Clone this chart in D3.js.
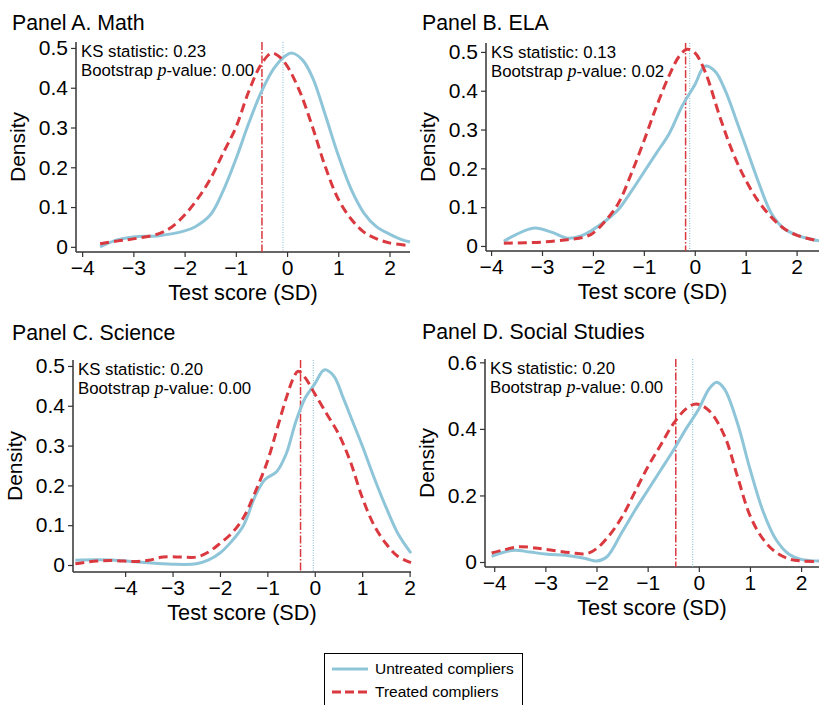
<!DOCTYPE html>
<html>
<head>
<meta charset="utf-8">
<script src="https://cdn.jsdelivr.net/npm/d3@7"></script>
<style>
  body { margin: 0; background: #fff; }
  svg { font-family: "Liberation Sans", Arial, sans-serif; }
</style>
</head>
<body>
<div id="chart"></div>
<script>
// density curves: [score, density]
const mathUntreated = [[-3.65,0.0],[-3.3,0.018],[-3,0.025],[-2.5,0.028],[-2,0.04],[-1.8,0.05],[-1.5,0.08],[-1.25,0.14],[-1,0.22],[-0.75,0.31],[-0.5,0.39],[-0.25,0.45],[0,0.483],[0.1,0.487],[0.3,0.47],[0.5,0.425],[0.75,0.33],[1,0.23],[1.25,0.145],[1.5,0.085],[1.75,0.05],[2,0.032],[2.2,0.02],[2.4,0.012]];
const mathTreated = [[-3.65,0.008],[-3.3,0.015],[-3,0.02],[-2.5,0.033],[-2.25,0.05],[-2,0.08],[-1.75,0.12],[-1.5,0.17],[-1.25,0.235],[-1,0.3],[-0.75,0.39],[-0.5,0.46],[-0.3,0.487],[-0.15,0.478],[0,0.455],[0.25,0.39],[0.5,0.3],[0.75,0.2],[1,0.12],[1.25,0.07],[1.5,0.037],[1.75,0.02],[2,0.01],[2.4,0.003]];

const elaUntreated = [[-3.75,0.012],[-3.5,0.03],[-3.15,0.046],[-2.8,0.035],[-2.5,0.02],[-2.25,0.025],[-2,0.042],[-1.75,0.065],[-1.5,0.094],[-1.25,0.14],[-1,0.19],[-0.75,0.24],[-0.5,0.29],[-0.25,0.36],[0,0.415],[0.2,0.463],[0.4,0.45],[0.6,0.4],[0.8,0.33],[1,0.257],[1.25,0.165],[1.5,0.085],[1.75,0.045],[2,0.028],[2.2,0.02],[2.45,0.013]];
const elaTreated = [[-3.75,0.007],[-3,0.01],[-2.5,0.016],[-2.2,0.022],[-2,0.033],[-1.75,0.065],[-1.5,0.11],[-1.25,0.185],[-1,0.27],[-0.75,0.36],[-0.5,0.44],[-0.3,0.49],[-0.15,0.507],[0,0.498],[0.2,0.45],[0.5,0.33],[0.75,0.24],[1,0.17],[1.25,0.115],[1.5,0.075],[1.75,0.045],[2,0.028],[2.2,0.02],[2.45,0.012]];

const sciUntreated = [[-5.05,0.012],[-4.6,0.013],[-4.2,0.012],[-3.8,0.008],[-3.3,0.004],[-3,0.002],[-2.5,0.003],[-2.25,0.012],[-2,0.03],[-1.75,0.06],[-1.5,0.1],[-1.25,0.175],[-1.05,0.215],[-0.8,0.235],[-0.6,0.28],[-0.4,0.36],[-0.2,0.42],[0,0.455],[0.2,0.49],[0.4,0.475],[0.6,0.42],[0.8,0.36],[1,0.3],[1.25,0.22],[1.5,0.146],[1.75,0.08],[2.03,0.03]];
const sciTreated = [[-5.05,0.003],[-4.6,0.01],[-4.2,0.011],[-3.8,0.009],[-3.5,0.012],[-3.2,0.02],[-2.8,0.02],[-2.5,0.02],[-2.25,0.032],[-2,0.054],[-1.75,0.08],[-1.5,0.12],[-1.25,0.185],[-1,0.26],[-0.8,0.34],[-0.6,0.42],[-0.45,0.47],[-0.35,0.487],[-0.2,0.47],[0,0.43],[0.25,0.38],[0.5,0.33],[0.75,0.26],[1,0.17],[1.25,0.1],[1.5,0.054],[1.75,0.022],[2.03,0.006]];

const socUntreated = [[-4.05,0.017],[-3.8,0.03],[-3.6,0.035],[-3.3,0.03],[-3,0.024],[-2.5,0.018],[-2.2,0.01],[-2,0.003],[-1.8,0.015],[-1.5,0.09],[-1.25,0.155],[-1,0.215],[-0.75,0.275],[-0.5,0.335],[-0.25,0.4],[0,0.46],[0.2,0.52],[0.35,0.54],[0.5,0.52],[0.75,0.42],[1,0.28],[1.25,0.155],[1.5,0.07],[1.75,0.025],[2,0.008],[2.35,0.003]];
const socTreated = [[-4.05,0.027],[-3.8,0.037],[-3.5,0.046],[-3.2,0.042],[-3,0.038],[-2.5,0.028],[-2.2,0.025],[-2,0.04],[-1.75,0.08],[-1.5,0.136],[-1.25,0.21],[-1,0.285],[-0.75,0.35],[-0.5,0.415],[-0.25,0.46],[-0.05,0.475],[0.2,0.455],[0.5,0.38],[0.75,0.26],[1,0.14],[1.25,0.07],[1.5,0.03],[1.75,0.01],[2,0.003],[2.35,0.002]];

const panelTitles = ["Panel A. Math", "Panel B. ELA", "Panel C. Science", "Panel D. Social Studies"];
const ksStats = ["0.23", "0.13", "0.20", "0.20"];
const pValues = ["0.00", "0.02", "0.00", "0.00"];
const treatedMeans = [-0.49, -0.18, -0.3, -0.45];
const untreatedMeans = [-0.08, -0.1, -0.03, -0.12];
const xTicks = [[-4,-3,-2,-1,0,1,2], [-4,-3,-2,-1,0,1,2], [-4,-3,-2,-1,0,1,2], [-4,-3,-2,-1,0,1,2]];
const yTicks = [[0,0.1,0.2,0.3,0.4,0.5], [0,0.1,0.2,0.3,0.4,0.5], [0,0.1,0.2,0.3,0.4,0.5], [0,0.2,0.4,0.6]];
const legendLabels = ["Untreated compliers", "Treated compliers"];

const untreatedCurves = [mathUntreated, elaUntreated, sciUntreated, socUntreated];
const treatedCurves = [mathTreated, elaTreated, sciTreated, socTreated];

const blue = "#8ec5d8";
const red = "#d9393f";
const axisColor = "#333";

const width = 819, height = 705;

// plot boxes and domains of each panel
const panels = [
  { x0: 76, x1: 410, y0: 42, y1: 252, xd: [-4.12, 2.4], yd: [-0.013, 0.515], tx: 12, ty: 30 },
  { x0: 486, x1: 819, y0: 43, y1: 251, xd: [-4.1, 2.44], yd: [-0.013, 0.523], tx: 422, ty: 30 },
  { x0: 73, x1: 411, y0: 360, y1: 572, xd: [-5.1, 2.03], yd: [-0.0176, 0.515], tx: 12, ty: 340 },
  { x0: 485, x1: 819, y0: 359, y1: 567, xd: [-4.18, 2.35], yd: [-0.015, 0.61], tx: 422, ty: 339 }
];

const svg = d3.select("#chart").append("svg")
  .attr("width", width)
  .attr("height", height);

const fmtMinus = d => d < 0 ? "\u2212" + Math.abs(d) : String(d);

panels.forEach((p, i) => {
  const x = d3.scaleLinear().domain(p.xd).range([p.x0, p.x1]);
  const y = d3.scaleLinear().domain(p.yd).range([p.y1, p.y0]);
  const g = svg.append("g");

  g.append("text")
    .attr("x", p.tx).attr("y", p.ty)
    .style("font-size", "21.3px")
    .text(panelTitles[i]);

  // axes
  const axX = g.append("g")
    .attr("transform", `translate(0,${p.y1})`)
    .call(d3.axisBottom(x).tickValues(xTicks[i]).tickSize(5).tickPadding(3).tickFormat(fmtMinus));
  const axY = g.append("g")
    .attr("transform", `translate(${p.x0},0)`)
    .call(d3.axisLeft(y).tickValues(yTicks[i]).tickSize(5).tickPadding(3).tickFormat(d => d === 0 ? "0" : d3.format(".1f")(d)));
  [axX, axY].forEach(a => {
    a.select(".domain").attr("stroke", axisColor).attr("stroke-width", 1.5)
      .attr("d", a === axX ? `M${p.x0},0H${p.x1}` : `M0,${p.y0}V${p.y1}`);
    a.selectAll(".tick line").attr("stroke", axisColor).attr("stroke-width", 1.2);
    a.selectAll(".tick text").attr("fill", "#000").style("font-size", "21px")
      .style("font-family", "'Liberation Sans', Arial, sans-serif");
  });

  g.append("text")
    .attr("x", (p.x0 + p.x1) / 2).attr("y", p.y1 + 48)
    .attr("text-anchor", "middle")
    .style("font-size", "21.7px")
    .text("Test score (SD)");
  g.append("text")
    .attr("transform", `translate(${p.x0 - 51},${(p.y0 + p.y1) / 2}) rotate(-90)`)
    .attr("text-anchor", "middle")
    .style("font-size", "21px")
    .text("Density");

  // mean lines
  g.append("line")
    .attr("x1", x(treatedMeans[i])).attr("x2", x(treatedMeans[i]))
    .attr("y1", p.y0).attr("y2", p.y1)
    .attr("stroke", red).attr("stroke-width", 1.5)
    .attr("stroke-dasharray", "8,2,1.5,2");
  g.append("line")
    .attr("x1", x(untreatedMeans[i])).attr("x2", x(untreatedMeans[i]))
    .attr("y1", p.y0).attr("y2", p.y1)
    .attr("stroke", blue).attr("stroke-width", 1.2)
    .attr("stroke-dasharray", "1,1.5");

  const line = d3.line()
    .x(d => x(d[0]))
    .y(d => y(d[1]))
    .curve(d3.curveCatmullRom.alpha(0.5));

  g.append("path")
    .attr("d", line(untreatedCurves[i]))
    .attr("fill", "none").attr("stroke", blue).attr("stroke-width", 3);
  g.append("path")
    .attr("d", line(treatedCurves[i]))
    .attr("fill", "none").attr("stroke", red).attr("stroke-width", 3)
    .attr("stroke-dasharray", "9,5");

  // KS annotation
  const note = g.append("text")
    .attr("x", p.x0 + 5).attr("y", p.y0 + 15)
    .style("font-size", "16.8px");
  note.append("tspan").text("KS statistic: " + ksStats[i]);
  const l2 = g.append("text")
    .attr("x", p.x0 + 5).attr("y", p.y0 + 34)
    .style("font-size", "16.8px");
  l2.append("tspan").text("Bootstrap ");
  l2.append("tspan").style("font-family", "'Liberation Serif', 'Times New Roman', serif")
    .style("font-style", "italic").style("font-size", "18px").text("p");
  l2.append("tspan").text("-value: " + pValues[i]);
});

// legend
const lg = svg.append("g");
lg.append("rect")
  .attr("x", 324.5).attr("y", 653.5).attr("width", 198).attr("height", 60)
  .attr("fill", "none").attr("stroke", "#000").attr("stroke-width", 1);
const legendY = d3.scalePoint().domain(legendLabels).range([669, 692]);
lg.selectAll("line")
  .data(legendLabels)
  .join("line")
  .attr("x1", 332).attr("x2", 368)
  .attr("y1", d => legendY(d)).attr("y2", d => legendY(d))
  .attr("stroke", (d, i) => i === 0 ? blue : red)
  .attr("stroke-width", 3)
  .attr("stroke-dasharray", (d, i) => i === 0 ? null : "9,4");
lg.selectAll("text")
  .data(legendLabels)
  .join("text")
  .attr("x", 375).attr("y", d => legendY(d) + 5)
  .style("font-size", "15.5px")
  .text(d => d);
</script>
</body>
</html>
